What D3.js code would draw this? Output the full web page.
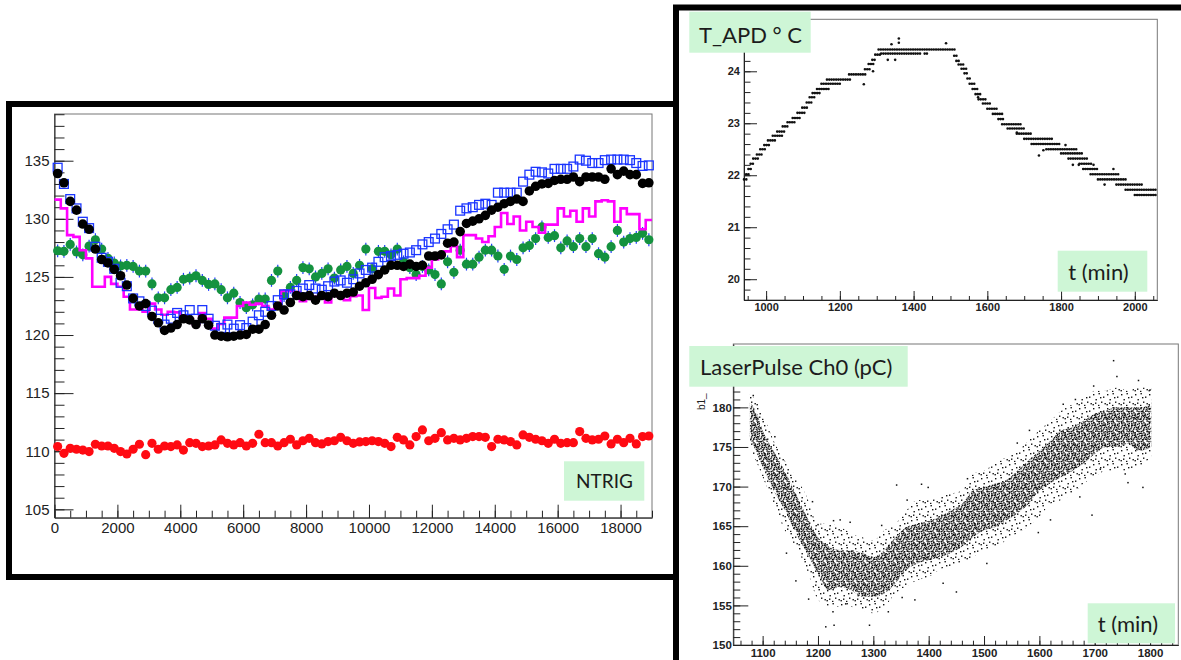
<!DOCTYPE html>
<html><head><meta charset="utf-8">
<script src="https://cdn.jsdelivr.net/npm/d3@7"></script>
<style>body{margin:0;background:#fff}svg{display:block}</style>
</head><body>
<svg id="c" width="1181" height="660"></svg>
<script>
// ---------------- DATA ----------------
// NTRIG panel: 95 bins of width 200 starting at 0
const binStart = 0, binWidth = 200;
const ntrigXTicks = [0,2000,4000,6000,8000,10000,12000,14000,16000,18000];
const ntrigYTicks = [105,110,115,120,125,130,135];
const seriesBlack = [133.9,133.1,131.5,130.75,129.55,129.1,127.4,126.5,126.2,125.65,
125.1,124.3,123.15,122.5,122.7,121.6,121.05,120.4,120.6,120.9,
121.4,121.3,120.9,121.4,120.85,120.0,119.9,119.85,119.9,120.0,
120.05,120.5,120.5,120.9,121.7,122.5,122.15,122.8,123.4,123.3,
123.4,123.0,123.4,123.3,123.6,123.4,123.6,123.7,124.2,124.5,
124.8,125.2,125.6,126.0,126.0,125.9,126.1,125.9,126.0,126.8,
126.8,126.9,127.9,128.0,128.9,129.6,129.8,130.0,130.3,130.75,
131.0,131.3,131.5,131.7,131.5,132.4,132.8,133.0,133.05,133.3,
133.4,133.4,133.6,133.2,133.6,133.6,133.6,133.4,134.3,133.8,
134.1,133.8,133.8,133.05,133.1];
const seriesBlue = [134.4,133.0,131.7,130.9,129.75,129.2,127.6,126.65,126.3,125.7,
124.5,124.2,123.15,122.9,122.5,122.1,121.4,120.9,121.4,121.9,
121.7,122.15,121.4,122.15,121.4,120.8,120.6,120.9,120.55,120.85,
120.6,121.15,121.7,122.0,122.5,123.0,123.5,123.5,123.8,124.0,
124.3,124.0,123.9,124.2,124.6,124.7,124.5,124.8,125.3,125.6,
125.8,126.3,126.7,126.8,126.9,127.0,127.1,127.3,127.8,128.0,
128.3,128.7,129.1,129.5,130.7,130.9,131.0,131.2,131.3,131.2,
132.25,132.25,132.25,132.25,133.2,133.8,134.05,134.0,133.9,134.3,
134.3,134.3,134.5,135.1,135.0,134.8,134.8,135.05,135.1,135.1,
135.1,135.05,134.8,134.55,134.6];
const seriesGreen = [127.25,127.2,127.8,127.15,126.9,127.65,128.2,127.4,126.6,126.2,
125.95,126.0,125.9,125.5,125.5,124.4,123.2,123.2,123.9,124.1,
124.8,124.9,125.1,124.7,124.35,124.4,123.9,123.2,123.6,122.8,
122.35,122.6,123.1,123.1,124.7,125.5,123.4,124.1,124.7,125.8,
125.7,125.0,125.3,125.7,124.9,125.6,125.9,125.3,126.0,127.4,
125.7,127.2,127.2,126.9,127.4,126.3,125.8,125.2,125.9,125.6,
125.2,124.4,126.3,125.4,127.3,126.1,126.1,126.7,127.3,127.3,
126.8,125.65,126.8,126.5,127.5,127.7,128.3,129.3,128.4,128.55,
127.5,128.1,127.6,128.3,127.6,128.3,127.0,126.7,127.6,129.0,
128.0,128.3,128.4,128.75,128.2];
const greenError = 0.55;
const seriesMagenta = [131.65,130.9,128.6,128.45,127.3,126.6,124.15,124.15,125.0,124.4,
124.15,123.3,122.2,122.2,122.0,122.7,122.2,121.75,122.0,121.95,
121.7,121.4,120.9,121.9,121.4,120.55,120.95,121.5,121.5,122.5,
122.8,122.6,122.7,122.5,122.2,122.5,123.8,123.8,123.7,122.9,
123.1,123.3,123.2,122.8,123.6,123.3,123.0,123.35,123.4,122.15,
124.05,123.2,123.3,124.0,123.4,124.8,124.9,124.9,125.1,125.8,
126.5,127.0,127.2,127.65,126.7,128.6,128.6,128.3,128.0,128.5,
129.3,130.5,129.55,130.2,129.0,129.75,129.3,128.8,129.5,129.5,
130.9,130.2,130.7,129.75,130.9,130.2,131.5,131.6,131.5,129.75,
130.9,130.4,130.4,129.1,129.9];
const seriesRed = [110.4,109.82,110.25,110.17,110.1,109.97,110.6,110.45,110.45,110.25,
109.97,109.76,110.17,110.6,109.7,110.68,110.17,110.45,110.4,110.54,
110.1,110.74,110.68,110.4,110.45,110.54,110.97,110.68,110.54,110.74,
110.45,110.68,111.46,110.74,110.74,110.45,110.74,111.03,110.54,110.9,
111.11,110.74,110.63,110.83,110.9,111.2,110.9,110.68,110.8,110.83,
110.9,110.83,110.68,110.4,111.2,110.97,110.54,111.26,111.83,110.9,
111.11,111.6,110.97,111.11,110.97,111.11,111.26,111.26,111.2,110.4,
111.03,110.97,110.83,110.54,111.4,111.2,111.03,110.9,110.68,111.03,
110.68,110.74,110.74,111.69,111.11,110.97,111.03,111.31,110.63,111.03,
110.74,111.11,110.63,111.26,111.31];

// T_APD panel: runs of readings at a quantised level [tStart, tEnd, T]
const tapdXTicks = [1000,1200,1400,1600,1800,2000];
const tapdYTicks = [20,21,22,23,24];
const tapdRuns = [
 [940,948,21.92],[946,956,22.02],[952,962,22.12],[958,970,22.22],[965,980,22.32],
 [975,990,22.40],[984,1000,22.50],[995,1012,22.58],[1005,1025,22.67],[1018,1045,22.76],
 [1030,1050,22.84],[1045,1062,22.94],[1058,1078,23.02],[1072,1092,23.10],[1085,1105,23.20],
 [1098,1115,23.30],[1110,1125,23.40],[1118,1133,23.50],[1126,1145,23.58],[1138,1175,23.66],
 [1150,1200,23.76],[1165,1232,23.84],[1225,1272,23.94],[1268,1285,24.04],[1278,1292,24.14],
 [1288,1300,24.22],[1296,1310,24.32],[1305,1512,24.42],[1312,1400,24.34],[1405,1420,24.34],
 [1430,1440,24.34],
 [1510,1520,24.30],[1516,1528,24.20],[1522,1535,24.13],[1530,1545,24.05],[1538,1550,23.96],
 [1546,1558,23.86],[1552,1566,23.76],[1560,1575,23.66],[1568,1585,23.56],[1576,1598,23.46],
 [1588,1610,23.38],[1600,1625,23.28],[1615,1640,23.18],[1630,1648,23.08],[1640,1690,22.98],
 [1655,1700,22.90],[1680,1720,22.80],[1700,1780,22.70],[1720,1800,22.60],[1760,1845,22.50],
 [1800,1860,22.42],[1820,1870,22.32],[1850,1885,22.22],[1860,1900,22.12],[1880,1960,22.02],
 [1900,1980,21.92],[1950,2020,21.82],[1975,2060,21.72],[2000,2060,21.62]
];
const tapdOutliers = [[1340,24.52],[1360,24.55],[1360,24.63],[1488,24.54],[1350,24.22],[1330,24.22],
 [1740,22.38],[1752,22.48],[1812,22.58],[1832,22.20],[1848,22.20],[1918,21.82],[1942,22.12],
 [1888,22.2],[1680,22.82],[1575,23.5],[1290,24.0],[1265,23.75]];

// LaserPulse panel: band of the point cloud (dense core, sparse halo) + isolated points
const pulseXTicks = [1100,1200,1300,1400,1500,1600,1700,1800];
const pulseYTicks = [150,155,160,165,170,175,180];
const pulseT      = [1077,1090,1100,1120,1140,1160,1180,1200,1220,1240,1260,1280,1300,1320,1340,1360,1380,1400,1420,1440,1460,1480,1500,1520,1540,1560,1580,1600,1620,1640,1660,1680,1700,1720,1740,1760,1780,1802];
const pulseCoreHi = [180.6,179.2,177.1,174.5,172.0,169.1,166.2,163.6,162.4,162.0,162.0,161.6,161.1,162.0,163.6,164.9,165.3,165.7,166.2,167.0,167.8,169.5,169.9,170.4,170.8,172.0,173.3,174.5,175.8,177.1,177.5,178.3,179.2,179.6,180.0,180.0,180.0,180.4];
const pulseCoreLo = [176.2,174.1,172.5,169.5,167.0,164.1,161.6,159.0,156.9,157.4,156.9,156.1,156.1,156.5,157.8,159.5,160.3,160.7,161.1,161.6,162.4,163.6,164.5,164.9,165.7,166.6,167.8,169.5,170.4,171.2,172.0,172.9,174.1,175.0,175.0,175.4,174.5,175.0];
const pulseOutHi  = [181.7,180.6,179.2,175.8,173.3,171.2,168.7,165.3,165.3,164.9,164.1,163.6,163.2,164.5,165.3,167.0,168.3,168.3,168.7,169.1,169.5,171.6,172.0,172.9,173.7,174.5,175.8,177.1,178.3,179.6,180.4,181.3,182.1,182.1,182.5,182.1,182.5,182.5];
const pulseOutLo  = [175.0,172.9,171.2,167.8,164.5,162.4,159.5,155.7,154.8,154.8,154.8,154.4,154.0,154.8,156.5,157.4,158.2,158.6,159.5,159.9,160.3,161.1,162.0,162.4,163.2,164.1,165.0,166.2,167.8,168.3,169.1,170.4,171.2,172.0,172.0,172.0,172.5,173.7];
const pulseOutliers = [[1083,181.5],[1122,176.3],[1143,161.6],[1160,158.1],[1183,155.8],[1214,152.3],
 [1227,154.2],[1229,152.5],[1228,165.7],[1258,165.5],[1293,152.5],[1315,165.1],[1327,154.2],
 [1361,168.3],[1375,155.7],[1387,170.3],[1399,169.9],[1426,157.8],[1450,156.7],[1505,160.3],
 [1582,177.1],[1598,164.2],[1643,180.4],[1673,168.7],[1695,166.4],[1698,182.7],[1710,172.2],
 [1734,185.9],[1740,183.9],[1755,171.6],[1779,183.4],[1787,169.9],[1800,182.2],[1200,165.2],
 [1240,165.8],[1342,170.2],[1102,176.0],[1190,168.1],[1250,155.2],[1352,156.0],[1470,171.0],
 [1560,175.5],[1620,165.8],[1665,181.0],[1760,170.5]];

// ---------------- DRAW ----------------
const svg = d3.select('#c');
const labelFill = '#cef6d6';

function drawAxes(g, kind, scale, pos, majors, minors, majLen, minLen, pad, font) {
  const mk = kind === 'left' ? d3.axisLeft : d3.axisBottom;
  const tr = kind === 'left' ? `translate(${pos},0)` : `translate(0,${pos})`;
  const gm = g.append('g').attr('transform', tr)
    .call(mk(scale).tickValues(minors).tickSize(-minLen).tickSizeOuter(0).tickFormat(''));
  gm.select('.domain').remove();
  gm.selectAll('.tick line').attr('stroke', '#222');
  const gM = g.append('g').attr('transform', tr)
    .call(mk(scale).tickValues(majors).tickSize(-majLen).tickSizeOuter(0).tickPadding(pad).tickFormat(d3.format('d')));
  gM.select('.domain').attr('stroke', '#222');
  gM.selectAll('.tick line').attr('stroke', '#222');
  gM.selectAll('text').style('font', font).attr('fill', '#222');
}
function labelBox(x, y, w, h, tx, ty, text, font, anchor) {
  svg.append('rect').attr('x', x).attr('y', y).attr('width', w).attr('height', h).attr('fill', labelFill);
  svg.append('text').attr('x', tx).attr('y', ty).text(text)
    .attr('text-anchor', anchor || 'start')
    .style('font', font || '22px Lato').attr('fill', '#1c1c1c');
}

// outer panel border (left)
svg.append('rect').attr('x', 9).attr('y', 104).attr('width', 667).attr('height', 473)
  .attr('fill', '#fff').attr('stroke', '#000').attr('stroke-width', 6);

// ===== NTRIG panel =====
{
  const x = d3.scaleLinear([0, 19000], [54.5, 652]);
  const y = d3.scaleLinear([104.28, 139.02], [517.7, 114]);
  const g = svg.append('g');
  g.append('rect').attr('x', 54.5).attr('y', 114).attr('width', 652 - 54.5).attr('height', 517.7 - 114)
    .attr('fill', 'none').attr('stroke', '#777').attr('stroke-width', 1);
  drawAxes(g, 'left', y, 54.5, ntrigYTicks, d3.range(105, 139.5, 1), 19, 10, 5, '15px "Liberation Sans"');
  drawAxes(g, 'bottom', x, 517.7, ntrigXTicks, d3.range(0, 19001, 500), 13, 7, 5, '15px "Liberation Sans"');
  const cx = i => x(binStart + binWidth * (i + 0.5));
  const m = g.append('g');

  // green with error bars
  const gg = m.append('g');
  gg.selectAll('line').data(seriesGreen).join('line')
    .attr('x1', (d, i) => cx(i)).attr('x2', (d, i) => cx(i))
    .attr('y1', d => y(d - greenError)).attr('y2', d => y(d + greenError))
    .attr('stroke', '#1e3cff').attr('stroke-width', 1.2);
  gg.selectAll('circle').data(seriesGreen).join('circle')
    .attr('cx', (d, i) => cx(i)).attr('cy', d => y(d)).attr('r', 4.6).attr('fill', '#14923f');

  // magenta step histogram
  const stepPts = seriesMagenta.map((v, i) => [binStart + binWidth * i, v]);
  stepPts.push([binStart + binWidth * seriesMagenta.length, seriesMagenta[seriesMagenta.length - 1]]);
  m.append('path').datum(stepPts)
    .attr('d', d3.line().x(d => x(d[0])).y(d => y(d[1])).curve(d3.curveStepAfter))
    .attr('fill', 'none').attr('stroke', '#ff00ff').attr('stroke-width', 2.6);

  // blue open squares
  m.append('g').selectAll('rect').data(seriesBlue).join('rect')
    .attr('x', (d, i) => cx(i) - 4.4).attr('y', d => y(d) - 4.4).attr('width', 8.8).attr('height', 8.8)
    .attr('fill', 'none').attr('stroke', '#1a35ff').attr('stroke-width', 1.3);

  // black filled circles
  m.append('g').selectAll('circle').data(seriesBlack).join('circle')
    .attr('cx', (d, i) => cx(i)).attr('cy', d => y(d)).attr('r', 4.8).attr('fill', '#000');

  // red filled circles
  m.append('g').selectAll('circle').data(seriesRed).join('circle')
    .attr('cx', (d, i) => cx(i)).attr('cy', d => y(d)).attr('r', 4.6).attr('fill', '#ff0a12');

  labelBox(564, 461.3, 80.3, 39.4, 604.5, 488.3, 'NTRIG', '19px Lato', 'middle');
}

// ===== T_APD panel =====
{
  const x = d3.scaleLinear([940, 2061], [744, 1157.3]);
  const y = d3.scaleLinear([19.6, 25.0], [300, 19.3]);
  const g = svg.append('g');
  g.append('rect').attr('x', 744).attr('y', 19.3).attr('width', 1157.3 - 744).attr('height', 300 - 19.3)
    .attr('fill', 'none').attr('stroke', '#777').attr('stroke-width', 1);
  drawAxes(g, 'left', y, 744, tapdYTicks, d3.range(98, 126).map(k => k / 5), 13, 6.5, 4, 'bold 11px "Liberation Sans"');
  drawAxes(g, 'bottom', x, 300, tapdXTicks, d3.range(950, 2061, 50), 9, 4, 3, 'bold 11px "Liberation Sans"');
  g.append('g').selectAll('line').data(tapdRuns).join('line')
    .attr('x1', d => x(d[0])).attr('x2', d => x(d[1]))
    .attr('y1', d => y(d[2])).attr('y2', d => y(d[2]))
    .attr('stroke', '#111').attr('stroke-width', 2.6).attr('stroke-linecap', 'round')
    .attr('stroke-dasharray', '0 2.3');
  g.append('g').selectAll('circle').data(tapdOutliers).join('circle')
    .attr('cx', d => x(d[0])).attr('cy', d => y(d[1])).attr('r', 1.3).attr('fill', '#111');
}

// ===== LaserPulse panel =====
{
  const x = d3.scaleLinear([1047, 1851], [733.3, 1178.3]);
  const y = d3.scaleLinear([150, 188], [645, 344]);
  const g = svg.append('g');
  const defs = svg.append('defs');
  const dense = defs.append('pattern').attr('id', 'dense').attr('patternUnits', 'userSpaceOnUse')
    .attr('width', 10).attr('height', 10);
  [[0.5,0.8],[3.2,2.1],[6.4,0.3],[8.6,2.9],[1.7,4.6],[4.9,5.2],[7.8,6.1],[0.2,7.9],[2.9,8.4],
   [5.6,9.1],[9.1,8.7],[3.8,6.9],[6.9,3.7],[9.3,5.0],[2.2,0.2],[7.3,8.2],[4.6,3.4],[1.1,2.8],
   [5.9,6.9],[8.2,0.9],[0.9,6.2],[3.6,4.6]].forEach(p =>
    dense.append('rect').attr('x', p[0]).attr('y', p[1]).attr('width', 1.5).attr('height', 1.5).attr('fill', '#111'));
  const sparse = defs.append('pattern').attr('id', 'sparse').attr('patternUnits', 'userSpaceOnUse')
    .attr('width', 14).attr('height', 14);
  [[1,2],[6.5,1],[11,4.5],[3.5,7],[9,9.5],[0.5,12],[6,12.8],[12.5,11],[8,5],[3,10.5]].forEach(p =>
    sparse.append('rect').attr('x', p[0]).attr('y', p[1]).attr('width', 1.4).attr('height', 1.4).attr('fill', '#111'));

  g.append('rect').attr('x', 733.3).attr('y', 344).attr('width', 1178.3 - 733.3).attr('height', 645 - 344)
    .attr('fill', 'none').attr('stroke', '#777').attr('stroke-width', 1);
  const idx = d3.range(pulseT.length);
  g.append('path').datum(idx)
    .attr('d', d3.area().x(i => x(pulseT[i])).y0(i => y(pulseOutLo[i])).y1(i => y(pulseOutHi[i])).curve(d3.curveMonotoneX))
    .attr('fill', 'url(#sparse)');
  g.append('path').datum(idx)
    .attr('d', d3.area().x(i => x(pulseT[i])).y0(i => y(pulseCoreLo[i])).y1(i => y(pulseCoreHi[i])).curve(d3.curveMonotoneX))
    .attr('fill', 'url(#dense)');
  g.append('g').selectAll('rect').data(pulseOutliers).join('rect')
    .attr('x', d => x(d[0]) - 0.7).attr('y', d => y(d[1]) - 0.7).attr('width', 1.5).attr('height', 1.5).attr('fill', '#111');
  drawAxes(g, 'left', y, 733.3, pulseYTicks, d3.range(150, 188, 1), 15, 7, 1.5, 'bold 11.5px "Liberation Sans"');
  drawAxes(g, 'bottom', x, 645, pulseXTicks, d3.range(1060, 1851, 20), 9, 4.3, 3.5, 'bold 11.5px "Liberation Sans"');
  g.append('text').attr('transform', 'translate(705,410) rotate(-90)').text('b1_')
    .style('font', '10px "Liberation Sans"').attr('fill', '#222');
}

// right-side black frame
svg.append('path').attr('d', 'M673,7.5H1181M676,5V660').attr('stroke', '#000').attr('stroke-width', 6).attr('fill', 'none');

// label boxes
labelBox(689.3, 11.7, 121.4, 41, 699, 42.7, 'T_APD ° C');
labelBox(1057.7, 250.7, 89.6, 41, 1068.3, 279.5, 't (min)');
labelBox(689.3, 346, 218.4, 40.7, 700, 375, 'LaserPulse Ch0 (pC)');
labelBox(1087.7, 603.3, 87.3, 40, 1097.7, 631.7, 't (min)');
</script>
</body></html>
